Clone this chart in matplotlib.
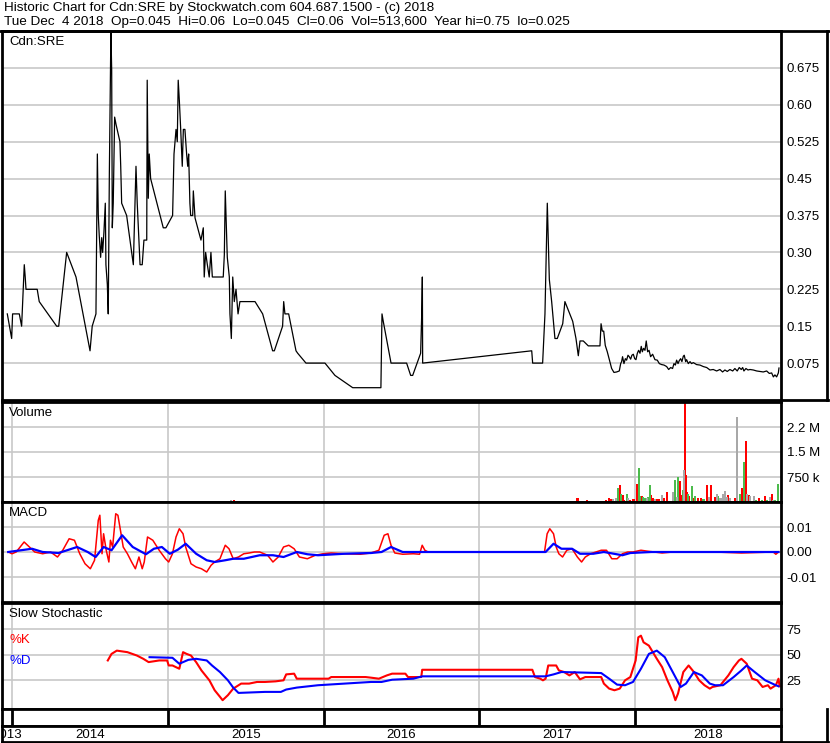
import matplotlib
matplotlib.use("Agg")
import matplotlib.pyplot as plt
from matplotlib.lines import Line2D

plt.rcParams['font.family'] = ['Liberation Sans', 'DejaVu Sans']

# closing prices (decimal year, price)
price = [
    (2013.970, 0.175), (2013.998, 0.125), (2014.004, 0.175), (2014.047, 0.175), (2014.062, 0.15),
    (2014.069, 0.20), (2014.079, 0.275), (2014.085, 0.25), (2014.090, 0.225), (2014.162, 0.225),
    (2014.175, 0.20), (2014.287, 0.15), (2014.300, 0.15), (2014.351, 0.30), (2014.411, 0.25),
    (2014.501, 0.10), (2014.515, 0.15), (2014.539, 0.175), (2014.548, 0.50), (2014.554, 0.375),
    (2014.560, 0.335), (2014.569, 0.29), (2014.576, 0.33), (2014.582, 0.30), (2014.590, 0.34),
    (2014.599, 0.40), (2014.603, 0.275), (2014.612, 0.235), (2014.618, 0.175), (2014.625, 0.46),
    (2014.635, 0.75), (2014.640, 0.67), (2014.644, 0.35), (2014.650, 0.40), (2014.659, 0.575),
    (2014.668, 0.56), (2014.693, 0.525), (2014.698, 0.475), (2014.704, 0.40), (2014.736, 0.375),
    (2014.779, 0.275), (2014.796, 0.475), (2014.804, 0.40), (2014.817, 0.31), (2014.822, 0.275),
    (2014.836, 0.275), (2014.847, 0.325), (2014.865, 0.325), (2014.868, 0.65), (2014.875, 0.41),
    (2014.881, 0.50), (2014.890, 0.45), (2014.971, 0.35), (2014.988, 0.35), (2015.031, 0.375),
    (2015.040, 0.50), (2015.053, 0.55), (2015.061, 0.525), (2015.067, 0.65), (2015.074, 0.61),
    (2015.083, 0.55), (2015.093, 0.475), (2015.100, 0.55), (2015.110, 0.55), (2015.121, 0.50),
    (2015.128, 0.475), (2015.134, 0.50), (2015.142, 0.40), (2015.147, 0.375), (2015.160, 0.375),
    (2015.164, 0.425), (2015.175, 0.37), (2015.213, 0.325), (2015.228, 0.35), (2015.234, 0.25),
    (2015.243, 0.30), (2015.254, 0.275), (2015.266, 0.25), (2015.277, 0.30), (2015.286, 0.25),
    (2015.356, 0.25), (2015.363, 0.295), (2015.369, 0.425), (2015.374, 0.375), (2015.382, 0.29),
    (2015.395, 0.25), (2015.399, 0.175), (2015.408, 0.125), (2015.417, 0.25), (2015.427, 0.20),
    (2015.438, 0.225), (2015.451, 0.175), (2015.463, 0.20), (2015.560, 0.20), (2015.609, 0.175),
    (2015.673, 0.10), (2015.684, 0.10), (2015.737, 0.15), (2015.744, 0.20), (2015.752, 0.175),
    (2015.776, 0.175), (2015.823, 0.10), (2015.834, 0.095), (2015.887, 0.075), (2016.009, 0.075),
    (2016.073, 0.05), (2016.187, 0.025), (2016.368, 0.025), (2016.375, 0.175), (2016.383, 0.16),
    (2016.433, 0.075), (2016.533, 0.075), (2016.559, 0.05), (2016.572, 0.05), (2016.623, 0.095),
    (2016.630, 0.175), (2016.634, 0.25), (2016.636, 0.075), (2017.336, 0.10), (2017.342, 0.075),
    (2017.406, 0.075), (2017.421, 0.175), (2017.436, 0.40), (2017.442, 0.325), (2017.449, 0.245),
    (2017.464, 0.20), (2017.485, 0.125), (2017.500, 0.125), (2017.535, 0.155), (2017.549, 0.20),
    (2017.599, 0.16), (2017.620, 0.125), (2017.635, 0.09), (2017.646, 0.12), (2017.667, 0.12),
    (2017.699, 0.11), (2017.774, 0.11), (2017.781, 0.155), (2017.789, 0.14), (2017.798, 0.14),
    (2017.808, 0.111), (2017.821, 0.098), (2017.849, 0.064), (2017.864, 0.056), (2017.881, 0.057),
    (2017.898, 0.059), (2017.907, 0.074), (2017.913, 0.078), (2017.919, 0.088), (2017.928, 0.074),
    (2017.937, 0.084), (2017.945, 0.081), (2017.954, 0.091), (2017.962, 0.088), (2017.971, 0.083),
    (2017.979, 0.091), (2017.988, 0.093), (2017.997, 0.084), (2018.005, 0.082), (2018.014, 0.095),
    (2018.022, 0.101), (2018.031, 0.095), (2018.039, 0.109), (2018.046, 0.098), (2018.054, 0.105),
    (2018.063, 0.101), (2018.071, 0.120), (2018.080, 0.098), (2018.089, 0.101), (2018.099, 0.088),
    (2018.112, 0.093), (2018.127, 0.082), (2018.142, 0.081), (2018.155, 0.074), (2018.170, 0.072),
    (2018.185, 0.071), (2018.202, 0.068), (2018.215, 0.062), (2018.228, 0.066), (2018.240, 0.064),
    (2018.249, 0.074), (2018.258, 0.071), (2018.266, 0.081), (2018.275, 0.074), (2018.283, 0.080),
    (2018.292, 0.084), (2018.300, 0.078), (2018.309, 0.089), (2018.315, 0.091), (2018.324, 0.078),
    (2018.330, 0.082), (2018.341, 0.074), (2018.352, 0.078), (2018.362, 0.074), (2018.373, 0.076),
    (2018.394, 0.072), (2018.416, 0.071), (2018.437, 0.068), (2018.459, 0.066), (2018.480, 0.061),
    (2018.501, 0.062), (2018.523, 0.059), (2018.544, 0.062), (2018.561, 0.057), (2018.576, 0.061),
    (2018.591, 0.058), (2018.608, 0.062), (2018.626, 0.059), (2018.640, 0.064), (2018.655, 0.059),
    (2018.668, 0.066), (2018.681, 0.062), (2018.690, 0.066), (2018.698, 0.059), (2018.711, 0.064),
    (2018.724, 0.061), (2018.737, 0.062), (2018.758, 0.061), (2018.780, 0.059), (2018.801, 0.058),
    (2018.822, 0.057), (2018.844, 0.059), (2018.861, 0.054), (2018.876, 0.055), (2018.887, 0.047),
    (2018.897, 0.051), (2018.908, 0.047), (2018.919, 0.055), (2018.923, 0.065),
]

# volume bars (decimal year, shares, direction)
volume = [
    (2014.544, 40000, 'up'), (2014.648, 40000, 'up'), (2014.813, 40000, 'dn'), (2015.406, 60000, 'un'),
    (2015.425, 60000, 'dn'), (2015.814, 40000, 'dn'), (2016.006, 40000, 'un'), (2017.511, 40000, 'up'),
    (2017.624, 110000, 'dn'), (2017.631, 110000, 'dn'), (2017.689, 50000, 'dn'), (2017.811, 50000, 'dn'),
    (2017.832, 110000, 'dn'), (2017.843, 90000, 'dn'), (2017.855, 80000, 'un'), (2017.877, 110000, 'un'),
    (2017.892, 410000, 'up'), (2017.902, 500000, 'dn'), (2017.909, 230000, 'up'), (2017.920, 200000, 'dn'),
    (2017.930, 50000, 'dn'), (2017.945, 230000, 'up'), (2017.954, 110000, 'un'), (2017.967, 60000, 'dn'),
    (2017.984, 80000, 'dn'), (2017.994, 80000, 'dn'), (2018.010, 530000, 'dn'), (2018.022, 1010000, 'up'),
    (2018.031, 190000, 'up'), (2018.037, 150000, 'dn'), (2018.046, 180000, 'dn'), (2018.052, 160000, 'up'),
    (2018.063, 110000, 'up'), (2018.078, 110000, 'un'), (2018.084, 150000, 'up'), (2018.095, 500000, 'up'),
    (2018.101, 200000, 'dn'), (2018.112, 110000, 'dn'), (2018.127, 80000, 'un'), (2018.138, 80000, 'dn'),
    (2018.155, 80000, 'dn'), (2018.170, 200000, 'un'), (2018.185, 110000, 'dn'), (2018.206, 290000, 'dn'),
    (2018.245, 290000, 'un'), (2018.255, 650000, 'up'), (2018.266, 150000, 'un'), (2018.277, 740000, 'up'),
    (2018.287, 620000, 'dn'), (2018.298, 210000, 'dn'), (2018.305, 350000, 'up'), (2018.311, 950000, 'un'),
    (2018.318, 3100000, 'dn'), (2018.326, 800000, 'dn'), (2018.332, 290000, 'dn'), (2018.339, 250000, 'up'),
    (2018.345, 180000, 'dn'), (2018.363, 470000, 'up'), (2018.373, 110000, 'dn'), (2018.384, 170000, 'up'),
    (2018.401, 110000, 'dn'), (2018.420, 110000, 'dn'), (2018.433, 80000, 'up'), (2018.444, 80000, 'up'),
    (2018.459, 500000, 'dn'), (2018.472, 140000, 'un'), (2018.485, 500000, 'dn'), (2018.514, 140000, 'dn'),
    (2018.523, 230000, 'un'), (2018.533, 170000, 'up'), (2018.544, 110000, 'un'), (2018.555, 110000, 'un'),
    (2018.565, 230000, 'un'), (2018.574, 320000, 'un'), (2018.587, 140000, 'un'), (2018.596, 200000, 'dn'),
    (2018.608, 110000, 'un'), (2018.639, 110000, 'dn'), (2018.651, 2540000, 'un'), (2018.673, 230000, 'up'),
    (2018.683, 410000, 'dn'), (2018.692, 80000, 'dn'), (2018.700, 1190000, 'up'), (2018.709, 1820000, 'dn'),
    (2018.718, 230000, 'un'), (2018.728, 210000, 'dn'), (2018.737, 170000, 'un'), (2018.763, 170000, 'un'),
    (2018.775, 50000, 'up'), (2018.793, 110000, 'dn'), (2018.812, 50000, 'up'), (2018.831, 170000, 'dn'),
    (2018.844, 50000, 'up'), (2018.865, 140000, 'un'), (2018.876, 230000, 'dn'), (2018.886, 50000, 'un'),
    (2018.897, 50000, 'up'), (2018.917, 530000, 'up'),
]

macd = [
    (2013.976, 0), (2014.000, -0.0007), (2014.027, 0), (2014.078, 0.004), (2014.112, 0.002),
    (2014.146, 0), (2014.197, -0.0007), (2014.248, 0), (2014.292, -0.002), (2014.326, 0.0007),
    (2014.367, 0.0053), (2014.401, 0.0047), (2014.435, -0.0007), (2014.469, -0.0047), (2014.503, -0.0067),
    (2014.530, -0.0033), (2014.554, 0.0127), (2014.564, 0.0147), (2014.578, -0.0007), (2014.588, 0.0073),
    (2014.605, 0.0007), (2014.622, -0.004), (2014.632, 0.0047), (2014.646, 0.002), (2014.666, 0.0153),
    (2014.680, 0.0147), (2014.700, 0.0073), (2014.714, 0.002), (2014.741, -0.0007), (2014.768, -0.004),
    (2014.792, -0.0067), (2014.815, -0.002), (2014.836, -0.0067), (2014.849, -0.004), (2014.870, 0.006),
    (2014.904, 0.0047), (2014.945, 0.0007), (2014.985, -0.0027), (2015.006, -0.004), (2015.030, -0.0007),
    (2015.053, 0.006), (2015.074, 0.0093), (2015.098, 0.0073), (2015.115, 0.002), (2015.149, -0.0047),
    (2015.182, -0.006), (2015.216, -0.0067), (2015.250, -0.008), (2015.278, -0.0053), (2015.301, -0.004),
    (2015.335, -0.0027), (2015.369, 0.0027), (2015.393, 0.0013), (2015.420, -0.0027), (2015.454, -0.002),
    (2015.488, -0.0007), (2015.522, -0.0004), (2015.556, 0), (2015.590, 0), (2015.641, -0.0013),
    (2015.675, -0.004), (2015.709, -0.002), (2015.743, 0.002), (2015.777, 0.0027), (2015.811, 0.0013),
    (2015.845, -0.002), (2015.896, -0.0027), (2015.947, -0.0013), (2015.998, -0.0007), (2016.049, -0.0004),
    (2016.134, -0.0007), (2016.236, -0.0009), (2016.304, -0.0004), (2016.355, 0.0007), (2016.389, 0.0067),
    (2016.413, 0.0073), (2016.433, 0.0027), (2016.457, -0.0004), (2016.508, -0.0009), (2016.576, -0.0007),
    (2016.616, -0.0009), (2016.633, 0.0027), (2016.650, 0.0007), (2016.671, 0), (2017.418, 0),
    (2017.435, 0.0073), (2017.452, 0.0093), (2017.476, 0.0073), (2017.493, 0.002), (2017.510, -0.0007),
    (2017.534, -0.002), (2017.561, 0.0007), (2017.595, 0.0013), (2017.629, -0.002), (2017.656, -0.004),
    (2017.680, -0.002), (2017.714, -0.0007), (2017.748, 0), (2017.782, 0.0007), (2017.816, 0.0007),
    (2017.850, -0.0027), (2017.884, -0.0027), (2017.918, -0.0007), (2017.952, 0), (2017.986, 0),
    (2018.037, 0.0007), (2018.071, 0.0004), (2018.122, 0), (2018.173, -0.0004), (2018.241, 0),
    (2018.343, 0), (2018.512, 0), (2018.682, -0.0004), (2018.886, 0), (2018.903, -0.0009), (2018.920, 0),
]

macd_signal = [
    (2013.976, 0), (2014.129, 0.0013), (2014.197, 0), (2014.299, -0.0004), (2014.418, 0.002),
    (2014.486, 0), (2014.537, -0.002), (2014.588, 0.002), (2014.639, 0.0007), (2014.707, 0.0067),
    (2014.775, 0.002), (2014.860, -0.0009), (2014.911, 0.0013), (2014.962, 0.002), (2015.013, -0.0007),
    (2015.064, 0.0009), (2015.115, 0.0033), (2015.182, -0.0007), (2015.250, -0.0033), (2015.301, -0.004),
    (2015.369, -0.0033), (2015.420, -0.0027), (2015.488, -0.0027), (2015.590, -0.0013), (2015.675, -0.0013),
    (2015.743, -0.002), (2015.828, 0), (2015.896, -0.0009), (2015.964, -0.0013), (2016.134, -0.0007),
    (2016.304, -0.0004), (2016.372, 0), (2016.433, 0.002), (2016.508, 0), (2016.643, 0),
    (2017.425, 0), (2017.476, 0.0033), (2017.527, 0.0013), (2017.595, 0.0013), (2017.646, -0.0007),
    (2017.731, -0.0007), (2017.799, 0), (2017.918, -0.0013), (2017.969, -0.0004), (2018.105, 0),
    (2018.343, 0), (2018.920, 0),
]

stoch_k = [
    (2014.615, 44.4), (2014.639, 50.8), (2014.673, 54), (2014.741, 52.5), (2014.802, 49.2),
    (2014.843, 46), (2014.877, 42.8), (2014.945, 44.4), (2014.996, 44.4), (2015.006, 39.5),
    (2015.030, 39.5), (2015.074, 36.3), (2015.098, 52.5), (2015.121, 50.8), (2015.149, 49.2),
    (2015.182, 42.8), (2015.216, 34.7), (2015.267, 25), (2015.301, 15.3), (2015.335, 8.9),
    (2015.352, 5.6), (2015.386, 10.5), (2015.420, 16.9), (2015.471, 21.8), (2015.522, 21.8),
    (2015.573, 23.4), (2015.624, 23.4), (2015.692, 24), (2015.743, 25), (2015.760, 30.8),
    (2015.811, 31.5), (2015.828, 26.6), (2015.964, 26.6), (2016.032, 26.6), (2016.049, 28.2),
    (2016.270, 28.2), (2016.304, 27.6), (2016.355, 26.6), (2016.406, 29.8), (2016.440, 31.5),
    (2016.525, 31.5), (2016.542, 28.2), (2016.627, 28.2), (2016.633, 35.3), (2017.340, 35.3),
    (2017.357, 28.2), (2017.391, 26.6), (2017.408, 25), (2017.425, 26.6), (2017.442, 39.5),
    (2017.493, 39.5), (2017.510, 34.7), (2017.544, 33.1), (2017.578, 29.8), (2017.612, 33.1),
    (2017.646, 26), (2017.680, 28.2), (2017.782, 28.2), (2017.799, 21.8), (2017.833, 16.9),
    (2017.867, 15.3), (2017.901, 16.9), (2017.935, 25), (2017.969, 28.2), (2018.003, 44.4),
    (2018.020, 67), (2018.037, 68.6), (2018.054, 62.1), (2018.088, 58.9), (2018.139, 46),
    (2018.173, 37.9), (2018.207, 25), (2018.241, 13.7), (2018.258, 5.6), (2018.275, 12.1),
    (2018.309, 33.1), (2018.343, 39.5), (2018.377, 33.1), (2018.411, 25), (2018.445, 20.2),
    (2018.479, 16.9), (2018.496, 18.5), (2018.547, 20.2), (2018.598, 29.8), (2018.632, 37.9),
    (2018.666, 44.4), (2018.682, 46), (2018.716, 41.2), (2018.750, 26.6), (2018.784, 25),
    (2018.818, 18.5), (2018.852, 20.2), (2018.869, 16.9), (2018.903, 20.2), (2018.920, 26.6),
    (2018.927, 19.2),
]

stoch_d = [
    (2014.883, 47.6), (2015.030, 47), (2015.074, 41.2), (2015.132, 45), (2015.182, 46),
    (2015.250, 44.4), (2015.284, 39.5), (2015.335, 33.1), (2015.386, 25), (2015.420, 17.9),
    (2015.454, 12.7), (2015.624, 13.7), (2015.726, 13.7), (2015.760, 16), (2015.828, 17.9),
    (2015.964, 20.2), (2016.134, 21.8), (2016.304, 23.4), (2016.372, 23.4), (2016.440, 25.6),
    (2016.576, 26.6), (2016.633, 28.9), (2017.425, 28.9), (2017.476, 30.8), (2017.527, 33.1),
    (2017.782, 32.1), (2017.833, 26.6), (2017.884, 20.8), (2017.935, 20.2), (2017.986, 23.4),
    (2018.037, 36.3), (2018.088, 50.8), (2018.139, 54), (2018.190, 47.6), (2018.241, 33.1),
    (2018.292, 18.5), (2018.326, 21.8), (2018.377, 33.1), (2018.428, 29.8), (2018.479, 21.8),
    (2018.513, 20.2), (2018.564, 20.2), (2018.632, 28.2), (2018.682, 34.7), (2018.716, 39.5),
    (2018.767, 33.1), (2018.835, 25), (2018.903, 20.2), (2018.920, 19.2),
]

years = [2014, 2015, 2016, 2017, 2018]
price_ticks = [0.075, 0.15, 0.225, 0.30, 0.375, 0.45, 0.525, 0.60, 0.675]
price_labels = ['0.075', '0.15', '0.225', '0.30', '0.375', '0.45', '0.525', '0.60', '0.675']
vol_ticks = [750000, 1500000, 2250000]
vol_labels = ['750 k', '1.5 M', '2.2 M']
macd_ticks = [-0.01, 0.0, 0.01]
macd_labels = ['-0.01', '0.00', '0.01']
stoch_ticks = [25, 50, 75]

title1 = "Historic Chart for Cdn:SRE by Stockwatch.com 604.687.1500 - (c) 2018"
title2 = "Tue Dec  4 2018  Op=0.045  Hi=0.06  Lo=0.045  Cl=0.06  Vol=513,600  Year hi=0.75  lo=0.025"

W, H = 830, 743
X0, X1 = 2013.936, 2018.936
GRID = '#c8c8c8'
FS = 9.5
dir_color = {'up': '#4cbb4c', 'dn': '#ff0000', 'un': '#a8a8a8'}

fig = plt.figure(figsize=(W / 100, H / 100), dpi=100)


def box(x0, y0, x1, y1):
    return [x0 / W, 1 - y1 / H, (x1 - x0) / W, (y1 - y0) / H]


def panel(y0, y1, vgrid=True):
    ax = fig.add_axes(box(2, y0, 781, y1))
    ax.set_xlim(X0, X1)
    for s in ax.spines.values():
        s.set_linewidth(2.0)
        s.set_color('black')
    ax.yaxis.tick_right()
    ax.tick_params(axis='y', length=0, pad=4, labelsize=FS)
    ax.set_xticks(years)
    ax.tick_params(axis='x', length=0, labelbottom=False)
    ax.set_axisbelow(True)
    ax.grid(axis='y', color=GRID, lw=1.2)
    if vgrid:
        ax.grid(axis='x', color=GRID, lw=1.2)
    return ax


def ftext(x, y, s, **kw):
    kw.setdefault('fontsize', FS)
    kw.setdefault('va', 'center')
    return fig.text(x / W, 1 - y / H, s, **kw)


# price panel
ax = panel(31, 400, vgrid=False)
ax.plot([p[0] for p in price], [p[1] for p in price], color='black', lw=0.9)
ax.set_ylim(0, 0.75)
ax.set_yticks(price_ticks)
ax.set_yticklabels(price_labels)

# volume panel
axv = panel(402, 502)
for c in ['dn', 'up', 'un']:
    pts = [v for v in volume if v[2] == c]
    axv.bar([v[0] for v in pts], [v[1] for v in pts], width=0.0125,
            color=dir_color[c], linewidth=0)
axv.set_ylim(0, 3.0e6)
axv.set_yticks(vol_ticks)
axv.set_yticklabels(vol_labels)

# MACD panel
axm = panel(502, 602)
axm.plot([p[0] for p in macd], [p[1] for p in macd], color='#ff0000', lw=1.1)
axm.plot([p[0] for p in macd_signal], [p[1] for p in macd_signal], color='#0000ff', lw=1.6)
axm.set_ylim(-0.02, 0.02)
axm.set_yticks(macd_ticks)
axm.set_yticklabels(macd_labels)

# slow stochastic panel
axs = panel(603, 709)
axs.plot([p[0] for p in stoch_k], [p[1] for p in stoch_k], color='#ff0000', lw=1.5)
axs.plot([p[0] for p in stoch_d], [p[1] for p in stoch_d], color='#0000ff', lw=1.5)
axs.set_ylim(-3, 100.5)
axs.set_yticks(stoch_ticks)
axs.set_yticklabels([str(t) for t in stoch_ticks])

# date strip with year separators
axt = fig.add_axes(box(2, 709, 781, 726))
axt.set_xlim(X0, X1)
axt.set_xticks([])
axt.set_yticks([])
for s in axt.spines.values():
    s.set_linewidth(2.0)
for yr in years:
    axt.axvline(yr, color='black', lw=2.0)

axy = fig.add_axes(box(2, 726, 781, 742))
axy.set_xlim(X0, X1)
axy.set_ylim(0, 1)
axy.set_xticks([])
axy.set_yticks([])
for s in axy.spines.values():
    s.set_linewidth(2.0)
# year labels centred in the visible part of each year (2013 is cut by the frame, as in the original)
centers = [(X0 + 2014) / 2] + [yr + 0.5 for yr in years[:-1]] + [(2018 + X1) / 2]
for yr, cx in zip([2013] + years, centers):
    t = axy.text(cx, 0.45, str(yr), ha='center', va='center', fontsize=FS)
    t.set_clip_on(True)

# titles and panel labels
ftext(4, 8, title1, fontsize=9.7)
ftext(4, 22, title2, fontsize=9.7)
ftext(9, 42, 'Cdn:SRE')
ftext(9, 413, 'Volume')
ftext(9, 513, 'MACD')
ftext(9, 614, 'Slow Stochastic')
ftext(9, 640, '%K', color='#ff0000')
ftext(9, 661, '%D', color='#0000ff')


# outer frame lines
def fline(xs, ys, lw=2.0):
    fig.add_artist(Line2D([x / W for x in xs], [1 - y / H for y in ys], color='black', lw=lw))


fline([0, 830], [31, 31])
fline([781, 828], [400, 400])
fline([827, 827], [31, 400])
fline([827, 827], [709, 743])
fline([781, 828], [742, 742])

fig.savefig('out.png', dpi=100)
